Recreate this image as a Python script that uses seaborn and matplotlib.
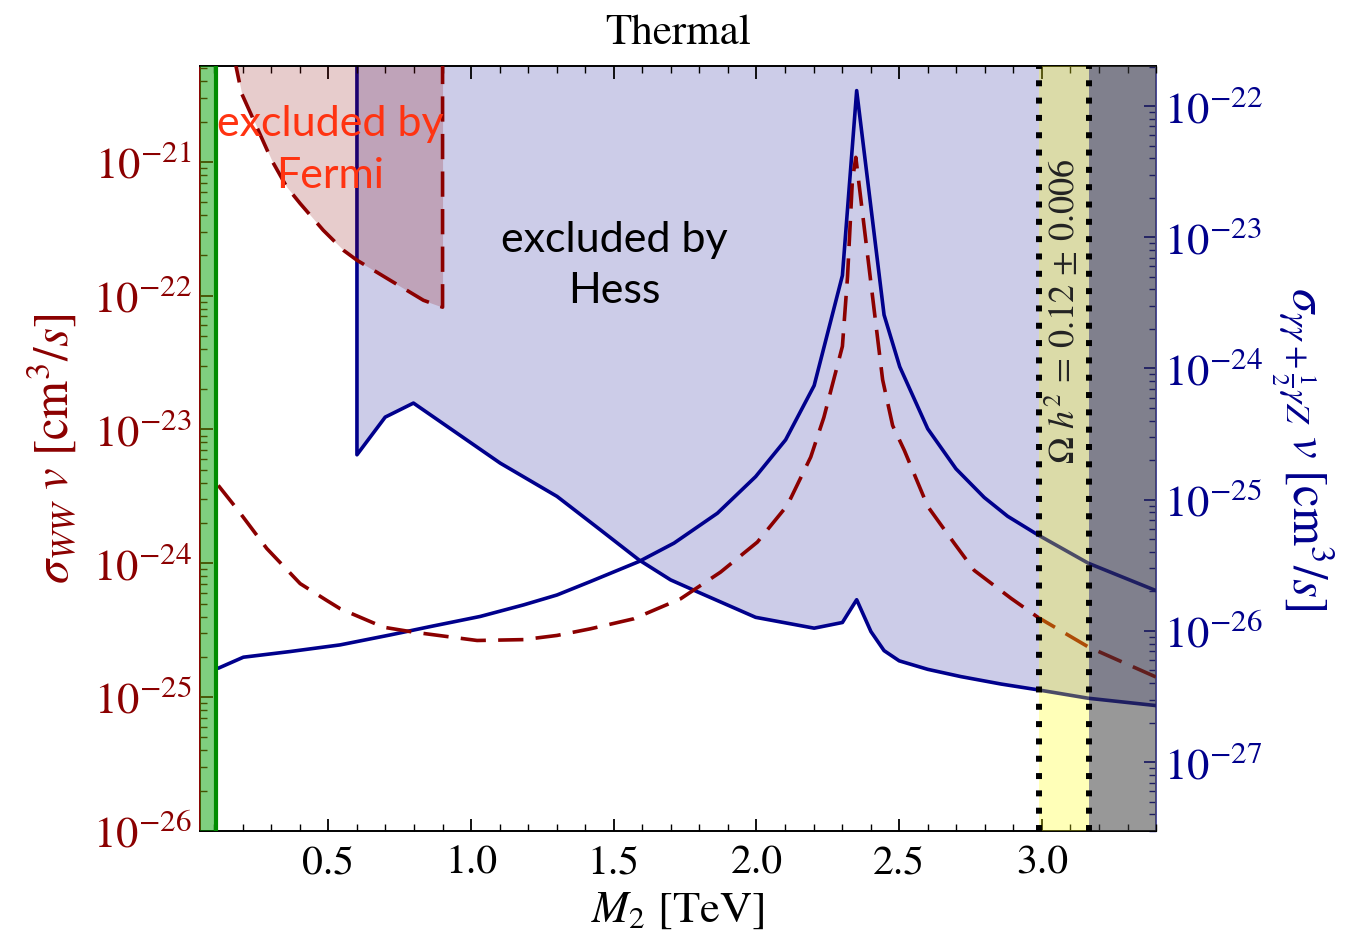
import numpy as np
import pandas as pd
import matplotlib
matplotlib.use("Agg")
import matplotlib.pyplot as plt
import seaborn as sns
from matplotlib.ticker import LogLocator, MultipleLocator, NullFormatter, FormatStrFormatter, FixedLocator

# ---------------- data ----------------
# sigma_WW v (left axis), dashed dark red
ww_mass = [0.114, 0.184, 0.284, 0.401, 0.494, 0.541, 0.693, 0.798, 1.021, 1.184, 1.301,
           1.418, 1.570, 1.734, 1.874, 2.003, 2.108, 2.190, 2.236, 2.301, 2.319, 2.336,
           2.348, 2.377, 2.412, 2.442, 2.477, 2.518, 2.600, 2.693, 2.763, 2.892, 2.986,
           3.163, 3.401]
ww_sigma = [3.82e-24, 2.48e-24, 1.29e-24, 7.05e-25, 5.28e-25, 4.58e-25, 3.33e-25, 3.06e-25,
            2.65e-25, 2.69e-25, 2.89e-25, 3.24e-25, 3.85e-25, 5.43e-25, 8.59e-25, 1.44e-24,
            2.71e-24, 6.22e-24, 1.23e-23, 4.18e-23, 1.39e-22, 7.28e-22, 1.08e-21, 3.30e-22,
            7.91e-23, 2.35e-23, 1.07e-23, 6.98e-24, 2.66e-24, 1.41e-24, 8.85e-25, 5.47e-25,
            3.95e-25, 2.37e-25, 1.41e-25]

# sigma_(gg + 1/2 gZ) v (right axis), solid navy
gg_mass = [0.114, 0.202, 0.366, 0.541, 0.717, 0.857, 1.032, 1.184, 1.301, 1.418, 1.588,
           1.711, 1.863, 1.997, 2.102, 2.202, 2.301, 2.351, 2.447, 2.502, 2.600, 2.699,
           2.798, 2.880, 2.986, 3.163, 3.407]
gg_sigma = [5.20e-27, 6.31e-27, 6.97e-27, 7.83e-27, 9.33e-27, 1.08e-26, 1.29e-26, 1.58e-26,
            1.88e-26, 2.38e-26, 3.38e-26, 4.67e-26, 7.89e-26, 1.50e-25, 2.86e-25, 7.41e-25,
            5.11e-24, 1.31e-22, 2.56e-24, 1.03e-24, 3.47e-25, 1.72e-25, 1.04e-25, 7.48e-26,
            5.40e-26, 3.28e-26, 2.00e-26]

# HESS limit (right axis)
hess_mass = [0.6, 0.6, 0.699, 0.798, 1.102, 1.301, 1.453, 1.588, 1.699, 1.804, 1.997, 2.202,
             2.301, 2.351, 2.401, 2.447, 2.500, 2.600, 2.716, 2.857, 2.986, 3.163, 3.407]
hess_limit = [1e-21, 2.20e-25, 4.26e-25, 5.45e-25, 1.90e-25, 1.06e-25, 5.89e-26, 3.48e-26,
              2.45e-26, 1.94e-26, 1.27e-26, 1.05e-26, 1.16e-26, 1.73e-26, 9.89e-27, 7.08e-27,
              5.92e-27, 5.10e-27, 4.49e-27, 3.94e-27, 3.56e-27, 3.07e-27, 2.69e-27]

# Fermi limit (left axis)
fermi_mass = [0.17, 0.196, 0.249, 0.301, 0.354, 0.401, 0.482, 0.553, 0.600, 0.717, 0.833, 0.9, 0.9]
fermi_limit = [6.0e-21, 3.24e-21, 1.82e-21, 1.03e-21, 6.49e-22, 4.88e-22, 3.08e-22, 2.18e-22,
               1.84e-22, 1.30e-22, 9.23e-23, 8.2e-23, 6.0e-21]

lep_bound = 0.105           # green band edge
relic_band = (2.99, 3.165)  # Omega h^2 = 0.12 +- 0.006
x_range = (0.05, 3.40)
left_range = (1e-26, 10 ** -20.284)
right_range = (10 ** -27.524, 10 ** -21.695)

x_major = [0.5, 1.0, 1.5, 2.0, 2.5, 3.0]
left_major = [1e-26, 1e-25, 1e-24, 1e-23, 1e-22, 1e-21]
right_major = [1e-27, 1e-26, 1e-25, 1e-24, 1e-23, 1e-22]

# ---------------- style ----------------
sns.set_theme(style="ticks")
plt.rcParams["font.family"] = ["STIXGeneral", "DejaVu Serif"]
plt.rcParams["mathtext.fontset"] = "stix"

RED = "#8b0000"
NAVY = "#00008c"

fig = plt.figure(figsize=(13.54, 9.40), dpi=100)
ax = fig.add_axes([0.1477, 0.116, 0.7061, 0.8138])
ax2 = ax.twinx()
ax.set_zorder(ax2.get_zorder() + 1)
ax.patch.set_visible(False)

for a in (ax, ax2):
    a.set_yscale("log")
ax.set_xlim(*x_range)
ax.set_ylim(*left_range)
ax2.set_ylim(*right_range)

# ---------- right-axis content (behind) ----------
ax2.fill_between(hess_mass, hess_limit, 1e-20, color=NAVY, alpha=0.2, lw=0, zorder=1)
sns.lineplot(x=hess_mass, y=hess_limit, ax=ax2, color=NAVY, linewidth=2.6,
             sort=False, estimator=None, legend=False, zorder=3)
sns.lineplot(x=gg_mass, y=gg_sigma, ax=ax2, color=NAVY, linewidth=2.6,
             sort=False, estimator=None, legend=False, zorder=3)

# ---------- left-axis content (front) ----------
ax.fill_between(fermi_mass[:-1], fermi_limit[:-1], 1e-19, color=RED, alpha=0.2, lw=0, zorder=1)
sns.lineplot(x=fermi_mass, y=fermi_limit, ax=ax, color=RED, linewidth=2.6,
             linestyle=(0, (7, 3.4)), sort=False, estimator=None, legend=False, zorder=4)
sns.lineplot(x=ww_mass, y=ww_sigma, ax=ax, color=RED, linewidth=2.6,
             linestyle=(0, (7, 3.4)), sort=False, estimator=None, legend=False, zorder=4)

# overlays
ax.axvspan(x_range[0], lep_bound, color="#00a000", alpha=0.5, lw=0, zorder=10)
ax.axvline(lep_bound, color="#008c00", lw=3, zorder=11)
ax.axvspan(relic_band[0], relic_band[1], color="#ffff14", alpha=0.3, lw=0, zorder=10)
ax.axvspan(relic_band[1], x_range[1], color="#3b3b3b", alpha=0.52, lw=0, zorder=10)
for xv in relic_band:
    ax.axvline(xv, color="black", lw=4.3, linestyle=(0, (1, 1.9)), zorder=12)

# texts
ax.text(0.506, 1.22e-21, "excluded by\nFermi", color="#ff3311", fontsize=31,
        family=["Lato", "DejaVu Sans"], ha="center", va="center", linespacing=1.45, zorder=13)
ax.text(1.502, 1.68e-22, "excluded by\nHess", color="black", fontsize=31,
        family=["Lato", "DejaVu Sans"], ha="center", va="center", linespacing=1.45, zorder=13)
ax.text(3.08, 7.6e-23, r"$\Omega\ h^2\, =\, 0.12\, \pm\, 0.006$", color="#222222", fontsize=26,
        rotation=90, ha="center", va="center", zorder=13)

# ---------- axes cosmetics ----------
ax.xaxis.set_major_locator(FixedLocator(x_major))
ax.xaxis.set_minor_locator(MultipleLocator(0.1))
ax.xaxis.set_major_formatter(FormatStrFormatter("%.1f"))
ax.yaxis.set_major_locator(FixedLocator(left_major))
ax2.yaxis.set_major_locator(FixedLocator(right_major))
for a in (ax, ax2):
    a.yaxis.set_major_formatter(matplotlib.ticker.LogFormatterSciNotation())
    a.yaxis.set_minor_locator(LogLocator(base=10, subs=np.arange(2, 10), numticks=20))
    a.yaxis.set_minor_formatter(NullFormatter())

ax.tick_params(axis="x", which="both", direction="in", top=True, bottom=True,
               colors="black", labelsize=30, pad=10)
ax.tick_params(axis="x", which="major", length=9, width=1.3)
ax.tick_params(axis="x", which="minor", length=5, width=1.0)
ax.tick_params(axis="y", which="both", direction="in", left=True, right=False,
               colors=RED, labelsize=32, pad=6)
ax.tick_params(axis="y", which="major", length=9, width=1.3)
ax.tick_params(axis="y", which="minor", length=5, width=1.0)
ax2.tick_params(axis="y", which="both", direction="in", right=True, left=False,
                colors=NAVY, labelsize=32, pad=6)
ax2.tick_params(axis="y", which="major", length=9, width=1.3)
ax2.tick_params(axis="y", which="minor", length=5, width=1.0)

ax.spines["left"].set_color(RED)
ax.spines["top"].set_color("black")
ax.spines["bottom"].set_color("black")
ax.spines["right"].set_visible(False)
for s in ("left", "top", "bottom"):
    ax2.spines[s].set_visible(False)
ax2.spines["right"].set_color("#4a4a9a")
for a in (ax, ax2):
    for s in a.spines.values():
        s.set_linewidth(1.4)

ax.set_xlabel(r"$M_2$ [TeV]", fontsize=32, color="black", labelpad=6)
ax.set_ylabel(r"$\sigma_{WW}\ v\ \left[\mathrm{cm}^3/s\right]$", fontsize=35, color=RED, labelpad=10)
ax2.set_ylabel(r"$\sigma_{\gamma\gamma+\frac{1}{2}\gamma Z}\ v\ \left[\mathrm{cm}^3/s\right]$",
               fontsize=35, color=NAVY, rotation=270, labelpad=52)
ax.set_title("Thermal", fontsize=31, color="black", pad=16)

fig.savefig("out.png", dpi=100)
